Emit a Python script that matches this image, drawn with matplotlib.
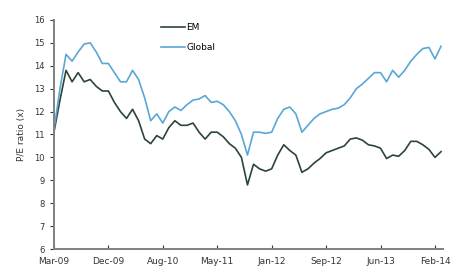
import numpy as np
from matplotlib import pyplot as plt

# 4-weekly P/E ratios, Mar-09 .. Feb-14
tick_labels = ["Mar-09", "Dec-09", "Aug-10", "May-11", "Jan-12", "Sep-12", "Jun-13", "Feb-14"]

glob = [11.2, 13.0, 14.5, 14.2, 14.6, 14.95, 15.0, 14.6, 14.1, 14.1,
        13.7, 13.3, 13.3, 13.8, 13.4, 12.6, 11.6, 11.9, 11.5, 12.0,
        12.2, 12.05, 12.3, 12.5, 12.55, 12.7, 12.4, 12.45, 12.3, 12.0,
        11.6, 11.0, 10.1, 11.1, 11.1, 11.05, 11.1, 11.7, 12.1, 12.2,
        11.9, 11.1, 11.4, 11.7, 11.9, 12.0, 12.1, 12.15, 12.3, 12.6,
        13.0, 13.2, 13.45, 13.7, 13.7, 13.3, 13.8, 13.5, 13.8, 14.2,
        14.5, 14.75, 14.8, 14.3, 14.85]

em = [11.1, 12.5, 13.8, 13.3, 13.7, 13.3, 13.4, 13.1, 12.9, 12.9,
      12.4, 12.0, 11.7, 12.1, 11.6, 10.8, 10.6, 10.95, 10.8, 11.3,
      11.6, 11.4, 11.4, 11.5, 11.1, 10.8, 11.1, 11.1, 10.9, 10.6,
      10.4, 10.0, 8.8, 9.7, 9.5, 9.4, 9.5, 10.1, 10.55, 10.3,
      10.1, 9.35, 9.5, 9.75, 9.95, 10.2, 10.3, 10.4, 10.5, 10.8,
      10.85, 10.75, 10.55, 10.5, 10.4, 9.95, 10.1, 10.05, 10.3, 10.7,
      10.7, 10.55, 10.35, 10.0, 10.25]

x = np.arange(len(em))

fig = plt.figure(figsize=(4.57, 2.77), dpi=100)
ax = fig.add_axes([0.118, 0.101, 0.851, 0.827])

ax.plot(x, em, color="#2b4536", lw=1.2, label="EM")
ax.plot(x, glob, color="#5aa6d6", lw=1.2, label="Global")

ax.set_xlim(0, 64.3)
ax.set_ylim(6, 16)
ax.set_yticks(range(6, 17))
ax.set_xticks(np.arange(0, 64, 9))
ax.set_xticklabels(tick_labels)
ax.tick_params(axis="x", direction="in", length=3, labelsize=6.5, colors="#333333", pad=6)
ax.tick_params(axis="y", direction="out", length=3, labelsize=6, colors="#333333")
ax.set_ylabel("P/E ratio (x)", fontsize=6.5, color="#333333", labelpad=6)

for s in ["top", "right"]:
    ax.spines[s].set_visible(False)
for s in ["left", "bottom"]:
    ax.spines[s].set_color("#808080")
    ax.spines[s].set_linewidth(1.4)

ax.legend(loc="upper left", bbox_to_anchor=(0.255, 1.022), frameon=False, fontsize=6.5,
          handlelength=2.6, handletextpad=0.2, labelspacing=1.2)

fig.savefig("out.png", dpi=100)
